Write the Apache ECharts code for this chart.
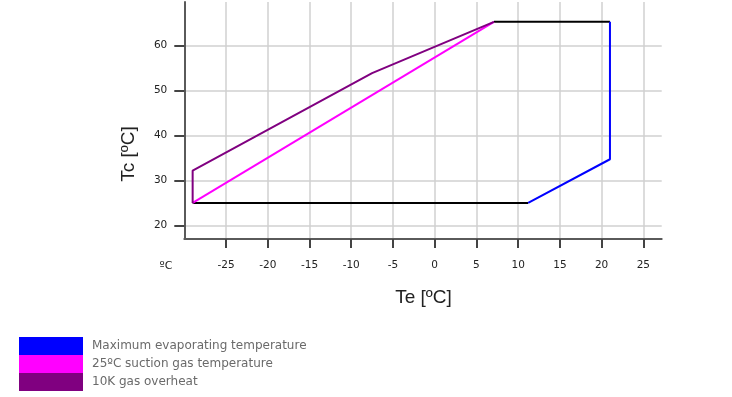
<!DOCTYPE html>
<html>
<head>
<meta charset="utf-8">
<script src="https://cdn.jsdelivr.net/npm/echarts@6/dist/echarts.min.js"></script>
<style>html,body{margin:0;padding:0;background:#fff}#c{width:732px;height:397px}</style>
</head>
<body>
<div id="c"></div>
<script>
// Data
var xTicks = [-25, -20, -15, -10, -5, 0, 5, 10, 15, 20, 25];
var yTicks = [20, 30, 40, 50, 60];
var seriesNames = ['Maximum evaporating temperature', '25ºC suction gas temperature', '10K gas overheat'];
var seriesColors = ['#0000ff', '#ff00ff', '#800080'];
var blueLine = [[21, 65.2], [21, 34.7], [11.2, 25]];
var magentaLine = [[-29, 25], [7.1, 65.2]];
var purpleLine = [[-29, 25], [-29, 32.2], [-7.5, 53.8], [7.1, 65.2]];
var blackBottom = [[-29, 25], [11.2, 25]];
var blackTop = [[7.1, 65.2], [21, 65.2]];
var xName = 'Te [ºC]';
var yName = 'Tc [ºC]';
var unitLabel = 'ºC';

var chart = echarts.init(document.getElementById('c'), null, {renderer: 'canvas'});
var labelFont = {fontFamily: 'DejaVu Sans', fontSize: 10.5, color: '#222'};
function lineSeries(name, data, color) {
  return {
    name: name, type: 'line', data: data, symbol: 'none', silent: true,
    lineStyle: {color: color, width: 2}, itemStyle: {color: color}
  };
}
chart.setOption({
  animation: false,
  grid: {left: 184.3, right: 70.3, top: 2, bottom: 158, containLabel: false},
  xAxis: {
    type: 'value', min: -30, max: 27.2,
    axisLine: {show: true, onZero: false, lineStyle: {color: '#5a5a5a', width: 2}},
    axisTick: {show: true, length: 9, customValues: xTicks, lineStyle: {color: '#444', width: 2}},
    axisLabel: Object.assign({margin: 21, customValues: xTicks}, labelFont),
    splitLine: {show: true, lineStyle: {color: '#d0d0d0', width: 1.5}}
  },
  yAxis: {
    type: 'value', min: 17, max: 69.6,
    axisLine: {show: true, onZero: false, lineStyle: {color: '#5a5a5a', width: 2}},
    axisTick: {show: true, length: 10, customValues: yTicks, lineStyle: {color: '#444', width: 2}},
    axisLabel: Object.assign({margin: 17, customValues: yTicks}, labelFont),
    splitLine: {show: true, lineStyle: {color: '#d0d0d0', width: 1.5}}
  },
  legend: {
    data: seriesNames, orient: 'vertical', left: 19, top: 337,
    itemWidth: 64, itemHeight: 18, itemGap: 0, icon: 'rect', selectedMode: false,
    padding: 0,
    textStyle: {fontFamily: 'DejaVu Sans', fontSize: 12, color: '#6a6a6a', padding: [0, 0, 0, 4]}
  },
  graphic: [
    {type: 'text', x: 423.5, y: 298, style: {text: xName, font: '19px "Liberation Sans", Arial, sans-serif', fill: '#222', align: 'center', verticalAlign: 'middle'}},
    {type: 'text', x: 129, y: 154, rotation: Math.PI / 2, style: {text: yName, font: '19px "Liberation Sans", Arial, sans-serif', fill: '#222', align: 'center', verticalAlign: 'middle'}},
    {type: 'text', x: 166, y: 266, style: {text: unitLabel, font: '11px "DejaVu Sans"', fill: '#222', align: 'center', verticalAlign: 'middle'}}
  ],
  series: [
    lineSeries('boundaryBottom', blackBottom, '#000'),
    lineSeries('boundaryTop', blackTop, '#000'),
    lineSeries(seriesNames[0], blueLine, seriesColors[0]),
    lineSeries(seriesNames[1], magentaLine, seriesColors[1]),
    lineSeries(seriesNames[2], purpleLine, seriesColors[2])
  ]
});
</script>
</body>
</html>
